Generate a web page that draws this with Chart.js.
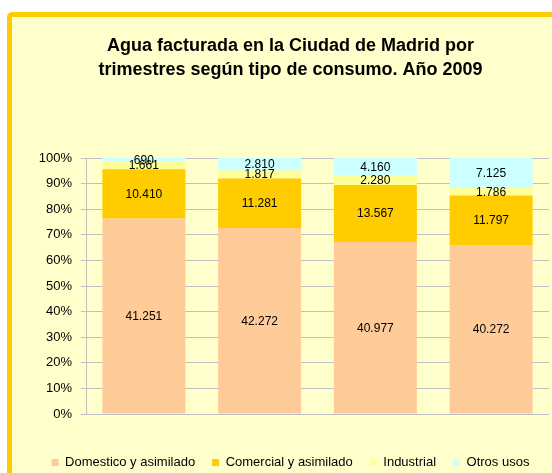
<!DOCTYPE html>
<html>
<head>
<meta charset="utf-8">
<script src="https://cdn.jsdelivr.net/npm/chart.js@4"></script>
<style>
    html, body { margin: 0; padding: 0; background: #ffffff; overflow: hidden; }
    #frame {
        position: absolute; left: 7px; top: 12px; width: 560px; height: 480px;
        border: 5px solid #ffcc00; border-radius: 5px; background: #ffffcc;
    }
    #chartCanvas { position: absolute; left: 0; top: 0; }
</style>
</head>
<body>
<div id="frame"></div>
<canvas id="chartCanvas" width="552" height="473"></canvas>
<script>
const trimestres = ["1er trimestre", "2º trimestre", "3er trimestre", "4º trimestre"];
const domestico = [41251, 42272, 40977, 40272];
const comercial = [10410, 11281, 13567, 11797];
const industrial = [1661, 1817, 2280, 1786];
const otros = [690, 2810, 4160, 7125];
const yTicks = [0, 10, 20, 30, 40, 50, 60, 70, 80, 90, 100];

const series = [
    { label: "Domestico y asimilado", values: domestico, color: "#ffcc99" },
    { label: "Comercial y asimilado", values: comercial, color: "#ffcc00" },
    { label: "Industrial", values: industrial, color: "#ffff99" },
    { label: "Otros usos", values: otros, color: "#ccffff" },
];

const totals = trimestres.map((_, i) =>
    series.reduce((sum, s) => sum + s.values[i], 0)
);

function formatMiles(v) {
    return String(v).replace(/\B(?=(\d{3})+(?!\d))/g, ".");
}

// etiquetas de valor centradas en cada tramo
const valueLabels = {
    id: "valueLabels",
    afterDatasetsDraw(chart) {
        const ctx = chart.ctx;
        ctx.save();
        ctx.font = "12px 'Liberation Sans', Arial, sans-serif";
        ctx.fillStyle = "#000000";
        ctx.textAlign = "center";
        ctx.textBaseline = "middle";
        chart.data.datasets.forEach((ds, di) => {
            chart.getDatasetMeta(di).data.forEach((bar, i) => {
                const y = (bar.y + bar.base) / 2;
                ctx.fillText(formatMiles(ds.raw[i]), bar.x, y + 0.5);
            });
        });
        ctx.restore();
    },
};

new Chart(document.getElementById("chartCanvas"), {
    type: "bar",
    data: {
        labels: trimestres,
        datasets: series.map((s) => ({
            label: s.label,
            raw: s.values,
            data: s.values.map((v, i) => (v / totals[i]) * 100),
            backgroundColor: s.color,
            borderWidth: 0,
            categoryPercentage: 1,
            barPercentage: 0.717,
        })),
    },
    options: {
        responsive: false,
        animation: false,
        layout: { padding: { left: 32, right: 3, top: 0, bottom: 0 } },
        scales: {
            x: {
                stacked: true,
                ticks: { display: false },
                grid: { display: false },
                border: { display: false },
                afterFit(scale) { scale.height = 25; },
            },
            y: {
                stacked: true,
                min: 0,
                max: 100,
                afterBuildTicks(scale) {
                    scale.ticks = yTicks.map((v) => ({ value: v }));
                },
                ticks: {
                    padding: 9,
                    color: "#000000",
                    font: { family: "'Liberation Sans', Arial", size: 13 },
                    callback: (v) => v + "%",
                },
                grid: { color: "#c0c0c0", tickLength: 5, lineWidth: 1 },
                border: { color: "#c0c0c0" },
                afterFit(scale) { scale.width = 54; },
            },
        },
        plugins: {
            title: {
                display: true,
                text: [
                    "Agua facturada en la Ciudad de Madrid por",
                    "trimestres según tipo de consumo. Año 2009",
                ],
                color: "#000000",
                font: { family: "'Liberation Sans', Arial", size: 18, weight: "bold", lineHeight: 1.28 },
                padding: { top: 35, bottom: 77 },
            },
            legend: {
                position: "bottom",
                maxHeight: 34,
                labels: {
                    boxWidth: 7,
                    boxHeight: 7,
                    padding: 17,
                    color: "#000000",
                    font: { family: "'Liberation Sans', Arial", size: 13 },
                },
            },
            tooltip: { enabled: false },
        },
    },
    plugins: [valueLabels],
});
</script>
</body>
</html>
